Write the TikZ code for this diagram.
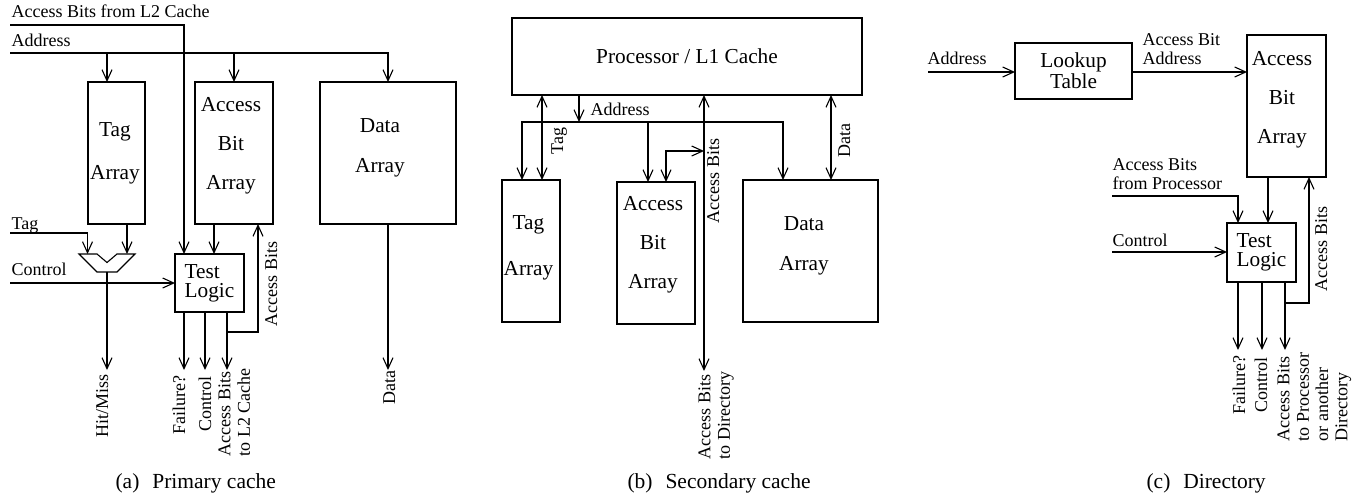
\documentclass[tikz,border=0pt]{standalone}
\usepackage{fontspec}
\setmainfont{Liberation Serif}
\usetikzlibrary{arrows.meta,calc}
\begin{document}
\begin{tikzpicture}[x=1pt,y=-1pt,line width=1.1pt,
  arr/.style={-{Straight Barb[length=11pt,width=10pt]}},
  darr/.style={{Straight Barb[length=11pt,width=10pt]}-{Straight Barb[length=11pt,width=10pt]}},
  box/.style={draw,line width=1.1pt,inner sep=0pt,outer sep=0pt},
  btext/.style={font=\fontsize{21.3}{40}\selectfont,align=center,inner sep=0pt},
  lbl/.style={font=\fontsize{18}{19.3}\selectfont,inner sep=0pt},
  vlbl/.style={lbl,rotate=90},
  captxt/.style={font=\fontsize{21.5}{24}\selectfont,inner sep=0pt,anchor=base west}]
\useasboundingbox (0,0) rectangle (1364,495);

% ================= (a) Primary cache =================
\node[box,minimum width=57pt,minimum height=142pt] (tagA) at (116.5,153) {};
\node[btext,font=\fontsize{21.3}{43}\selectfont] (tagAt) at (115,153) {Tag\\Array};
\node[box,minimum width=78pt,minimum height=142pt] (abA) at (234,153) {};
\node[btext,font=\fontsize{21.3}{38.8}\selectfont] (abAt) at (231,145.5) {Access\\Bit\\Array};
\node[box,minimum width=136pt,minimum height=142pt] (dataA) at (388,153) {};
\node[btext] (dataAt) at (380,147.5) {Data\\Array};
\node[box,minimum width=69pt,minimum height=58pt,align=left,font=\fontsize{21.3}{19}\selectfont] (testA) at (209.5,283) {Test\\Logic};

\node[lbl,anchor=base west] (l2lbl) at (11,17.5) {Access Bits from L2 Cache};
\node[lbl,anchor=base west] (addrAlbl) at (11,46.7) {Address};
\node[lbl,anchor=base west] (tagAlbl) at (11,229.5) {Tag};
\node[lbl,anchor=base west] (ctlAlbl) at (11,275) {Control};

\coordinate (l2in) at (10,25);
\coordinate (addrA) at (10,53);
\coordinate (tagin) at (10,233);
\coordinate (ctlA) at (10,283);

% multiplexer
\coordinate (muxL) at (87.5,254);
\coordinate (muxR) at (127,254);
\coordinate (muxO) at (107,272);
\draw (79,254) -- (97,254) -- (107,262.5) -- (117,254) -- (135,254) -- (117,272) -- (97,272) -- cycle;

\coordinate (tAi1) at ($(testA.north west)+(9,0)$);
\coordinate (abAo) at ($(abA.south west)+(19,0)$);
\coordinate (abAi) at ($(abA.south west)+(63,0)$);
\coordinate (tagAport) at ($(tagA.north west)+(19,0)$);
\coordinate (tAo1) at ($(testA.south west)+(9,0)$);
\coordinate (tAo2) at ($(testA.south west)+(30,0)$);
\coordinate (tAo3) at ($(testA.south west)+(52,0)$);
\coordinate (hmEnd) at (107,370);
\coordinate (fEndA1) at ($(tAo1)+(0,58)$);
\coordinate (fEndA2) at ($(tAo2)+(0,58)$);
\coordinate (fEndA3) at ($(tAo3)+(0,58)$);
\coordinate (fbA) at ($(tAo3)+(0,20)$);
\coordinate (dataAend) at (388,370);

\draw[arr] (l2in) -| (tAi1);
\draw[arr] (addrA) -| (dataA.north);
\draw[arr] (addrA -| tagAport) -- (tagAport);
\draw[arr] (addrA -| abA.north) -- (abA.north);
\draw[arr] (tagin) -| (muxL);
\draw[arr] (tagA.south -| muxR) -- (muxR);
\draw[arr] (muxO) -- (hmEnd);
\draw[arr] (ctlA) -- (ctlA -| testA.west);
\draw[arr] (abAo) -- (abAo |- testA.north);
\draw[arr] (tAo1) -- (fEndA1);
\draw[arr] (tAo2) -- (fEndA2);
\draw[arr] (tAo3) -- (fEndA3);
\draw[arr] (fbA) -| (abAi);
\draw[arr] (dataA.south) -- (dataAend);

\node[vlbl,anchor=base west] (abAlbl) at (277,327) {Access Bits};
\node[vlbl,anchor=base east] (hmlbl) at (108,374) {Hit/Miss};
\node[vlbl,anchor=base east] (faillblA) at (185,375) {Failure?};
\node[vlbl,anchor=base east] (ctloutA) at (211,376) {Control};
\node[vlbl,anchor=north west,align=left] (abL2lbl) at (218,457) {Access Bits\\to L2 Cache};
\node[vlbl,anchor=base east] (dataAlbl) at (395,370) {Data};
\node[captxt] (capA) at (115,488) {(a)\hspace{0.6em}Primary cache};

% ================= (b) Secondary cache =================
\node[box,minimum width=350pt,minimum height=77pt,font=\fontsize{21.3}{24}\selectfont] (procB) at (687,56.5) {Processor / L1 Cache};
\node[box,minimum width=58pt,minimum height=142pt] (tagB) at (531,251) {};
\node[btext,font=\fontsize{21.3}{46}\selectfont] (tagBt) at (528.5,248) {Tag\\Array};
\node[box,minimum width=78pt,minimum height=142pt] (abB) at (656,253) {};
\node[btext,font=\fontsize{21.3}{39}\selectfont] (abBt) at (653,244.5) {Access\\Bit\\Array};
\node[box,minimum width=135pt,minimum height=142pt] (dataB) at (810.5,251) {};
\node[btext] (dataBt) at (804,246) {Data\\Array};

\coordinate (addrB) at ($(procB.south west)+(67,0)$);
\coordinate (busB) at (addrB |- 0,122);
\coordinate (tagBport) at ($(tagB.north west)+(20,0)$);
\coordinate (tagBt2) at ($(tagB.north west)+(40,0)$);
\coordinate (abBport) at ($(abB.north west)+(31,0)$);
\coordinate (abBfb) at ($(abB.north west)+(49,0)$);
\coordinate (dataBport) at ($(dataB.north west)+(40,0)$);
\coordinate (dataBd) at ($(dataB.north west)+(88,0)$);
\coordinate (abBdir) at (704,371);
\coordinate (abBj) at (704,151);

\draw[arr] (addrB) -- (busB);
\draw[arr] (busB) -| (tagBport);
\draw[arr] (busB) -| (dataBport);
\draw[arr] (abBport |- busB) -- (abBport);
\draw[darr] (tagBt2) -- (tagBt2 |- procB.south);
\draw[darr] (dataBd |- procB.south) -- (dataBd);
\draw[darr] (abBdir |- procB.south) -- (abBdir);
\draw[darr] (abBfb) |- (abBj);

\node[lbl,anchor=base west] (addrBlbl) at (590,115) {Address};
\node[vlbl,anchor=base east] (tagBlbl) at (563,127) {Tag};
\node[vlbl,anchor=base east] (abBlbl) at (719,138) {Access Bits};
\node[vlbl,anchor=base east] (dataBlbl) at (850,123) {Data};
\node[vlbl,anchor=north west,align=left] (dirlbl) at (698,460) {Access Bits\\to Directory};
\node[captxt] (capB) at (627,488) {(b)\hspace{0.6em}Secondary cache};

% ================= (c) Directory =================
\node[box,minimum width=117pt,minimum height=56pt,align=center,font=\fontsize{21.3}{20.6}\selectfont] (lookup) at (1073.5,71) {Lookup\\Table};
\node[box,minimum width=79pt,minimum height=142pt] (abC) at (1286.5,106) {};
\node[btext,font=\fontsize{21.3}{39}\selectfont] (abCt) at (1282,99.5) {Access\\Bit\\Array};
\node[box,minimum width=69pt,minimum height=59pt,align=left,font=\fontsize{21.3}{19}\selectfont] (testC) at (1261.5,252.5) {Test\\Logic};

\coordinate (addrC) at (928,72);
\coordinate (fpC) at (1112,196);
\coordinate (ctlC) at (1112,252);
\coordinate (tCi1) at ($(testC.north west)+(11,0)$);
\coordinate (abCo) at ($(abC.south west)+(21,0)$);
\coordinate (abCi) at ($(abC.south west)+(62,0)$);
\coordinate (tCo1) at ($(testC.south west)+(11,0)$);
\coordinate (tCo2) at ($(testC.south west)+(35,0)$);
\coordinate (tCo3) at ($(testC.south west)+(58,0)$);
\coordinate (fEndC1) at ($(tCo1)+(0,68)$);
\coordinate (fEndC2) at ($(tCo2)+(0,68)$);
\coordinate (fEndC3) at ($(tCo3)+(0,68)$);
\coordinate (fbC) at ($(tCo3)+(0,21)$);

\draw[arr] (addrC) -- (addrC -| lookup.west);
\draw[arr] (lookup.east |- addrC) -- (addrC -| abC.west);
\draw[arr] (fpC) -| (tCi1);
\draw[arr] (abCo) -- (abCo |- testC.north);
\draw[arr] (ctlC) -- (ctlC -| testC.west);
\draw[arr] (tCo1) -- (fEndC1);
\draw[arr] (tCo2) -- (fEndC2);
\draw[arr] (tCo3) -- (fEndC3);
\draw[arr] (fbC) -| (abCi);

\node[lbl,anchor=base west] (addrClbl) at (927,64) {Address};
\node[lbl,anchor=north west,align=left] (abaddrlbl) at (1142,33) {Access Bit\\Address};
\node[lbl,anchor=north west,align=left] (fromproclbl) at (1112,158) {Access Bits\\from Processor};
\node[lbl,anchor=base west] (ctlClbl) at (1112,246.5) {Control};
\node[vlbl,anchor=base west] (abClbl) at (1327,292) {Access Bits};
\node[vlbl,anchor=base east] (faillblC) at (1245,355) {Failure?};
\node[vlbl,anchor=base east] (ctloutC) at (1267,357) {Control};
\node[vlbl,anchor=north west,align=left] (toproclbl) at (1277,442) {Access Bits\\to Processor\\or another\\Directory};
\node[captxt] (capC) at (1146,488) {(c)\hspace{0.6em}Directory};
\end{tikzpicture}
\end{document}
